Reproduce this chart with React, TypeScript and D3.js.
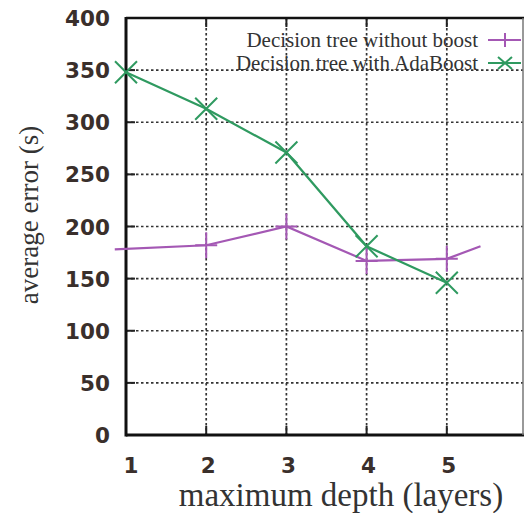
import React from 'react';
import * as d3 from 'd3';

// depth values (purple line runs a bit past the ends of the marked points)
const depthNoBoost = [0.86, 2, 3, 4, 5, 5.42];
const errorNoBoost = [178, 182, 200, 167, 169, 181];
const markedNoBoost = [false, true, true, true, true, false];

const depthAda = [1, 2, 3, 4, 5];
const errorAda = [348, 313, 271, 181, 146];

const xTicks = [1, 2, 3, 4, 5];
const yTicks = [0, 50, 100, 150, 200, 250, 300, 350, 400];

const seriesLabels = ['Decision tree without boost', 'Decision tree with AdaBoost'];

const W = 525;
const H = 513;
const left = 126;
const right = 523;
const top = 18;
const bottom = 435;

const purple = '#a458b4';
const green = '#2f9a60';
const tickColor = '#3a2f2b';

export default function App() {
  const x = d3.scaleLinear().domain([1, 5.95]).range([left, right]);
  const y = d3.scaleLinear().domain([0, 400]).range([bottom, top]);

  const line = d3
    .line<[number, number]>()
    .x((d) => x(d[0]))
    .y((d) => y(d[1]));

  const noBoostPts = depthNoBoost.map((d, i) => [d, errorNoBoost[i]] as [number, number]);
  const adaPts = depthAda.map((d, i) => [d, errorAda[i]] as [number, number]);

  const m = 11;

  return (
    <svg
      width={W}
      height={H}
      style={{ position: 'absolute', left: 0, top: 0, background: '#fff' }}
    >
      {/* grid */}
      <g stroke="#333" strokeWidth={1.7} strokeDasharray="2.5,2.5">
        {yTicks.slice(1, -1).map((t) => (
          <line key={'gy' + t} x1={left} x2={right} y1={y(t)} y2={y(t)} />
        ))}
        {xTicks.slice(1).map((t) => (
          <line key={'gx' + t} x1={x(t)} x2={x(t)} y1={top} y2={bottom} />
        ))}
      </g>
      {/* inner ticks */}
      <g stroke="#222" strokeWidth={2}>
        {xTicks.slice(1).map((t) => (
          <React.Fragment key={'tx' + t}>
            <line x1={x(t)} x2={x(t)} y1={bottom} y2={bottom - 9} />
            <line x1={x(t)} x2={x(t)} y1={top} y2={top + 9} />
          </React.Fragment>
        ))}
        {yTicks.slice(1, -1).map((t) => (
          <line key={'ty' + t} x1={left} x2={left + 9} y1={y(t)} y2={y(t)} />
        ))}
      </g>
      {/* frame */}
      <line x1={left} x2={left} y1={top - 1} y2={bottom + 1.5} stroke="#111" strokeWidth={3} />
      <line x1={left} x2={right + 1} y1={bottom} y2={bottom} stroke="#111" strokeWidth={3} />
      <line x1={left} x2={right + 1} y1={top} y2={top} stroke="#111" strokeWidth={2.5} />
      <line x1={right} x2={right} y1={top} y2={bottom} stroke="#777" strokeWidth={1.5} />

      {/* legend */}
      <g fontFamily="'Liberation Serif', 'Times New Roman', serif" fontSize={21} fill="#333">
        <text x={478} y={47} textAnchor="end">{seriesLabels[0]}</text>
        <text x={478} y={70} textAnchor="end">{seriesLabels[1]}</text>
      </g>
      <line x1={488} x2={521} y1={40} y2={40} stroke={purple} strokeWidth={2} />
      <line x1={505} x2={505} y1={33} y2={47} stroke={purple} strokeWidth={2} />
      <line x1={488} x2={521} y1={63} y2={63} stroke={green} strokeWidth={2} />
      <path d="M498,57L512,69M498,69L512,57" stroke={green} strokeWidth={2} />

      {/* series */}
      <path d={line(noBoostPts) ?? ''} fill="none" stroke={purple} strokeWidth={2.2} />
      {noBoostPts
        .filter((_, i) => markedNoBoost[i])
        .map((p, i) => (
          <path
            key={'pm' + i}
            d={`M${x(p[0]) - m},${y(p[1])}H${x(p[0]) + m}M${x(p[0])},${y(p[1]) - m - 2}V${y(p[1]) + m + 2}`}
            stroke={purple}
            strokeWidth={2}
          />
        ))}
      <path d={line(adaPts) ?? ''} fill="none" stroke={green} strokeWidth={2.2} />
      {adaPts.map((p, i) => (
        <path
          key={'gm' + i}
          d={`M${x(p[0]) - m},${y(p[1]) - m}L${x(p[0]) + m},${y(p[1]) + m}M${x(p[0]) - m},${y(p[1]) + m}L${x(p[0]) + m},${y(p[1]) - m}`}
          stroke={green}
          strokeWidth={2}
        />
      ))}

      {/* tick labels */}
      <g fontFamily="'DejaVu Sans', sans-serif" fontWeight="bold" fontSize={21.5} fill={tickColor}>
        {yTicks.map((t) => (
          <text key={'ly' + t} x={110} y={y(t) + 8} textAnchor="end">
            {t}
          </text>
        ))}
        {xTicks.map((t) => (
          <text key={'lx' + t} x={x(t) + (t === 1 ? 5 : 2)} y={473} textAnchor="middle">
            {t}
          </text>
        ))}
      </g>

      {/* axis titles */}
      <text
        transform="translate(38,215) rotate(-90)"
        textAnchor="middle"
        fontFamily="'Liberation Serif', 'Times New Roman', serif"
        fontSize={27}
        fill="#333"
      >
        average error (s)
      </text>
      <text
        x={341}
        y={506}
        textAnchor="middle"
        fontFamily="'Liberation Serif', 'Times New Roman', serif"
        fontSize={33}
        fill="#333"
      >
        maximum depth (layers)
      </text>
    </svg>
  );
}
